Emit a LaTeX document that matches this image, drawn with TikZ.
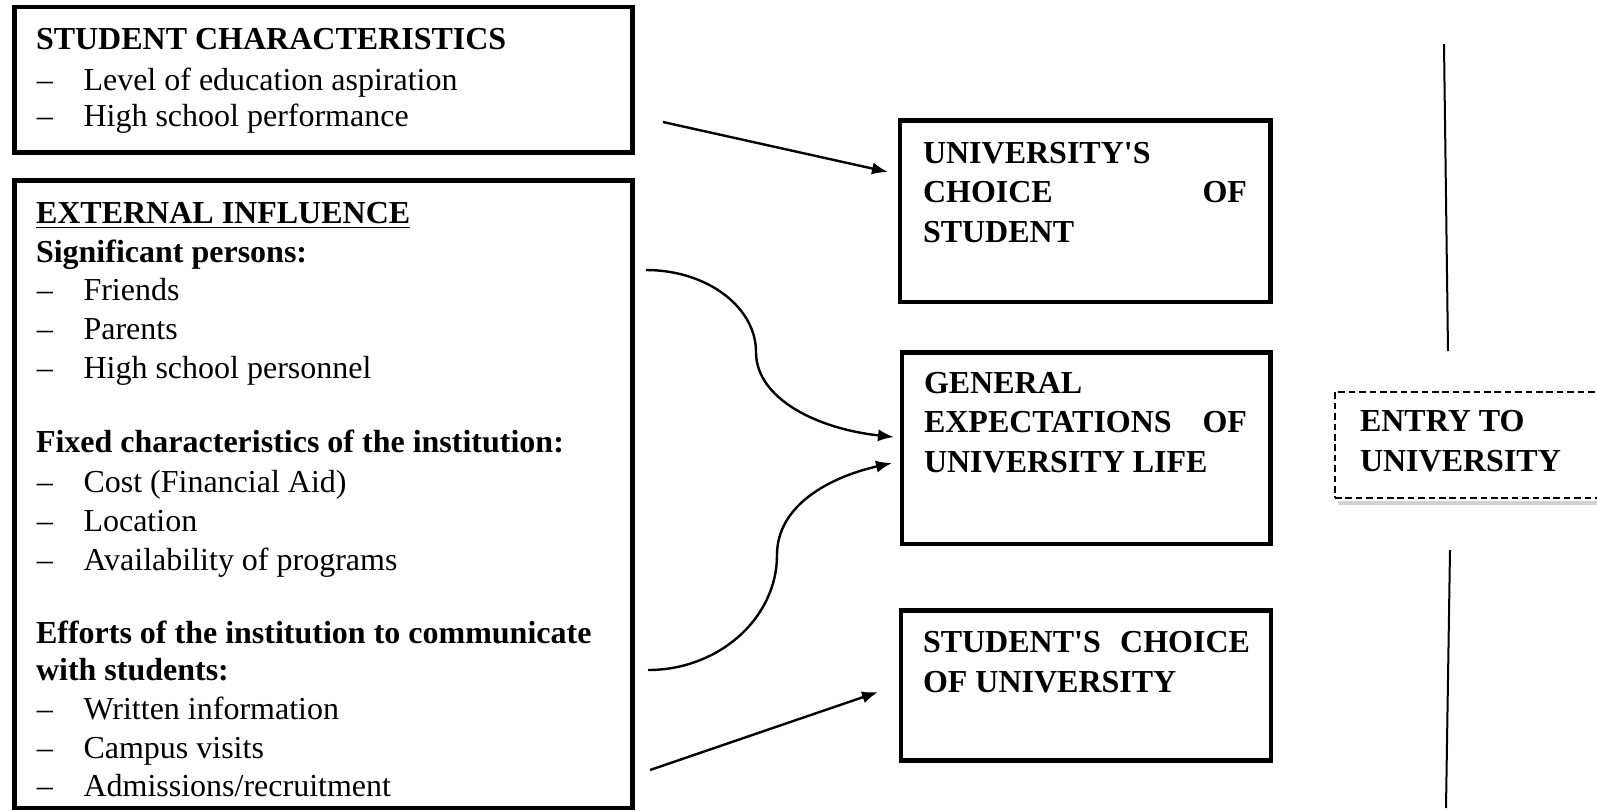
\documentclass[tikz,border=0pt]{standalone}
\usepackage{fontspec}
\setmainfont{Liberation Serif}
\usetikzlibrary{arrows.meta,fit}
\begin{document}
\begin{tikzpicture}[x=0.375pt,y=-0.375pt,
  box/.style={draw, line width=1.8pt, inner sep=0pt, outer sep=0pt},
  dashbox/.style={draw, line width=0.6pt, dash pattern=on 2.5pt off 1.4pt, inner sep=0pt, outer sep=0pt},
  txt/.style={anchor=base west, inner sep=0pt, outer sep=0pt, font=\fontsize{12}{14}\selectfont},
  btxt/.style={anchor=base west, inner sep=0pt, outer sep=0pt, font=\fontsize{12}{14}\selectfont\bfseries},
  btxte/.style={anchor=base east, inner sep=0pt, outer sep=0pt, font=\fontsize{12}{14}\selectfont\bfseries},
  arr/.style={line width=0.9pt, -{Latex[length=6pt,width=4.6pt]}},
  thinline/.style={line width=0.75pt}
]
\useasboundingbox (0,0) rectangle (1597,810);

% boxes
\node[box, fit={(14.5,7) (632.5,152.5)}] (stu) {};
\node[box, fit={(14.5,180.5) (632.5,808)}] (ext) {};
\node[box, fit={(900,120.5) (1270.5,302)}] (uc) {};
\node[box, fit={(902,352.5) (1270.5,544)}] (ge) {};
\node[box, fit={(901,610.5) (1271,760.5)}] (sc) {};
\draw[gray!35, line width=1.6pt] (1338,503) -- (1600,503);
\node[dashbox, fit={(1335,392) (1625,498)}] (entry) {};

% student characteristics
\node[btxt] (s0) at (36,49) {STUDENT CHARACTERISTICS};
\node[txt] (s1d) at (37,90) {\textendash};
\node[txt] (s1) at (83.5,90) {Level of education aspiration};
\node[txt] (s2d) at (37,126) {\textendash};
\node[txt] (s2) at (83.5,126) {High school performance};

% external influence
\node[btxt] (e0) at (36,223) {\underline{EXTERNAL INFLUENCE}};
\node[btxt] (e1) at (36,262) {Significant persons:};
\node[txt] (e2d) at (37,300.5) {\textendash};
\node[txt] (e2) at (83.5,300.5) {Friends};
\node[txt] (e3d) at (37,339) {\textendash};
\node[txt] (e3) at (83.5,339) {Parents};
\node[txt] (e4d) at (37,378) {\textendash};
\node[txt] (e4) at (83.5,378) {High school personnel};
\node[btxt] (e5) at (36,452) {Fixed characteristics of the institution:};
\node[txt] (e6d) at (37,492) {\textendash};
\node[txt] (e6) at (83.5,492) {Cost (Financial Aid)};
\node[txt] (e7d) at (37,531) {\textendash};
\node[txt] (e7) at (83.5,531) {Location};
\node[txt] (e8d) at (37,570) {\textendash};
\node[txt] (e8) at (83.5,570) {Availability of programs};
\node[btxt] (e9) at (36,643) {Efforts of the institution to communicate};
\node[btxt] (e10) at (36,680.5) {with students:};
\node[txt] (e11d) at (37,719) {\textendash};
\node[txt] (e11) at (83.5,719) {Written information};
\node[txt] (e12d) at (37,758) {\textendash};
\node[txt] (e12) at (83.5,758) {Campus visits};
\node[txt] (e13d) at (37,796.5) {\textendash};
\node[txt] (e13) at (83.5,796.5) {Admissions/recruitment};

% university's choice of student
\node[btxt] (u1) at (923,163) {UNIVERSITY\textquotesingle S};
\node[btxt] (u2) at (923,202) {CHOICE};
\node[btxte] (u3) at (1247,202) {OF};
\node[btxt] (u4) at (923,242) {STUDENT};

% general expectations
\node[btxt] (g1) at (924,393) {GENERAL};
\node[btxt] (g2) at (924,432.5) {EXPECTATIONS};
\node[btxte] (g3) at (1247,432.5) {OF};
\node[btxt] (g4) at (924,472) {UNIVERSITY LIFE};

% student's choice of university
\node[btxt] (c1) at (923,652) {STUDENT\textquotesingle S};
\node[btxte] (c2) at (1250,652) {CHOICE};
\node[btxt] (c3) at (923,692) {OF UNIVERSITY};

% entry
\node[btxt] (n1) at (1360,431.5) {ENTRY TO};
\node[btxt] (n2) at (1360,471.5) {UNIVERSITY};

% vertical lines
\coordinate (v1a) at (1444,44);
\coordinate (v1b) at (1448,351);
\coordinate (v2a) at (1450,550);
\coordinate (v2b) at (1446,808);
\draw[thinline] (v1a) -- (v1b);
\draw[thinline] (v2a) -- (v2b);

% connectors
\coordinate (a1s) at (663,122);
\coordinate (c1s) at (646,270);
\coordinate (c1m) at (756,352);
\coordinate (c2s) at (648,670);
\coordinate (c2m) at (777,555);
\coordinate (a3s) at (650,770);

\draw[arr] (a1s) -- ([shift={(-12,51.5)}]uc.north west);
\draw[arr] (c1s) .. controls +(61,0) and +(0,-45) .. (c1m)
  .. controls +(0,47) and +(-76,-8) .. ([shift={(-8,84.5)}]ge.north west);
\draw[arr] (c2s) .. controls +(71,0) and +(0,63) .. (c2m)
  .. controls +(0,-50) and +(-62,14) .. ([shift={(-10,110.5)}]ge.north west);
\draw[arr] (a3s) -- ([shift={(-23,81.5)}]sc.north west);
\end{tikzpicture}
\end{document}
